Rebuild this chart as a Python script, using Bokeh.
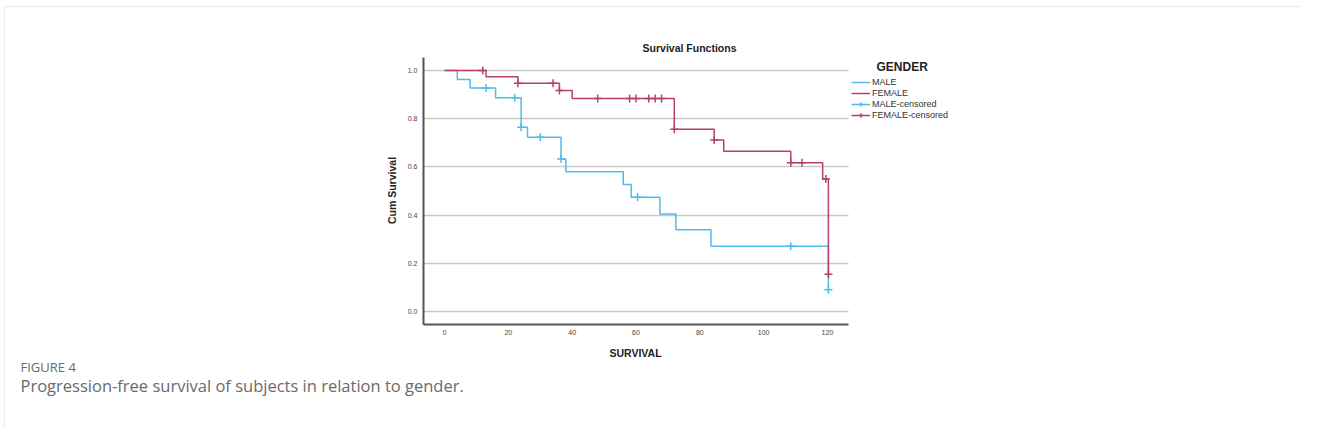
import math
from bokeh.plotting import figure
from bokeh.models import (Range1d, Label, Legend, LegendItem, FixedTicker,
                          NumeralTickFormatter, LinearAxis, Grid, BoxAnnotation)
from bokeh.embed import file_html
from bokeh.resources import INLINE

# ---- data ----
male_times = [0, 4, 8, 16, 24, 26, 36.5, 38, 56, 58.5, 67.5, 72.5, 83.5, 120.3]
male_surv = [1.0, 0.963, 0.927, 0.887, 0.765, 0.723, 0.633, 0.58, 0.527, 0.474, 0.405, 0.339, 0.271, 0.09]
male_cens_times = [13, 22, 24, 30, 36.5, 60.5, 108.5, 120.3]
male_cens_surv = [0.927, 0.887, 0.765, 0.723, 0.633, 0.474, 0.271, 0.09]

female_times = [0, 13, 23, 36, 40, 72, 84.5, 87.5, 108.5, 118.5, 120.3]
female_surv = [1.0, 0.974, 0.947, 0.917, 0.884, 0.756, 0.712, 0.665, 0.617, 0.55, 0.155]
female_cens_times = [12, 23, 34, 36, 48, 58, 60, 64, 66, 68, 72, 84.5, 108.5, 112, 119.5, 120.3]
female_cens_surv = [1.0, 0.947, 0.947, 0.917, 0.884, 0.884, 0.884, 0.884, 0.884, 0.884, 0.756, 0.712, 0.617, 0.617, 0.55, 0.155]

x_ticks = [0, 20, 40, 60, 80, 100, 120]
y_ticks = [0.0, 0.2, 0.4, 0.6, 0.8, 1.0]

series_names = ["MALE", "FEMALE", "MALE-censored", "FEMALE-censored"]
chart_title = "Survival Functions"
legend_title = "GENDER"
x_label = "SURVIVAL"
y_label = "Cum Survival"
caption_head = "FIGURE 4"
caption_text = "Progression-free survival of subjects in relation to gender."

BLUE = "#4dbcec"
RED = "#b5406e"
FONT = "Liberation Sans"
CAP_FONT = "Open Sans"

W, H = 1302, 429
X0, X1 = -6.6, 126.6          # data extent of the plot box
Y0, Y1 = -0.054, 1.054
BL, BR, BT, BB = 423, 848, 57, 324   # plot box edges, px
kx = (BR - BL) / (X1 - X0)
ky = (BB - BT) / (Y1 - Y0)

p = figure(width=W, height=H, output_backend="svg", toolbar_location=None,
           x_range=Range1d(X0 - BL / kx, X1 + (W - BR) / kx),
           y_range=Range1d(Y0 - (H - BB) / ky, Y1 + BT / ky),
           x_axis_location=None, y_axis_location=None, min_border=0)
p.min_border_left = p.min_border_right = p.min_border_top = p.min_border_bottom = 0
p.outline_line_color = None
p.background_fill_color = "white"
for g in list(p.grid):
    g.visible = False

# outer container border (top and left edges)
p.add_layout(BoxAnnotation(left=4, right=W + 20, top=H - 6, bottom=-20,
                           left_units="screen", right_units="screen",
                           top_units="screen", bottom_units="screen",
                           fill_alpha=0, line_color="#c8c8c8", line_width=1.5))

grid = Grid(dimension=1, ticker=FixedTicker(ticks=y_ticks),
            grid_line_color="#c9c9c9", grid_line_width=1.3)
if "cross_bounds" in Grid.properties():
    grid.cross_bounds = (X0, X1)
    p.add_layout(grid)
else:
    p.segment(x0=[X0] * len(y_ticks), x1=[X1] * len(y_ticks), y0=y_ticks, y1=y_ticks,
              line_color="#c9c9c9", line_width=1.3)

xa = LinearAxis(fixed_location=Y0, bounds=(X0, X1), ticker=FixedTicker(ticks=x_ticks))
ya = LinearAxis(fixed_location=X0, bounds=(Y0, Y1), ticker=FixedTicker(ticks=y_ticks),
                formatter=NumeralTickFormatter(format="0.0"))
for ax in (xa, ya):
    ax.axis_line_color = "#555555"
    ax.axis_line_width = 2
    ax.major_tick_line_color = None
    ax.minor_tick_line_color = None
    ax.major_tick_out = 0
    ax.major_tick_in = 0
    ax.major_label_text_font = FONT
    ax.major_label_text_font_size = "7px"
    ax.major_label_text_color = "#444444"
xa.major_label_standoff = 5
ya.major_label_standoff = 6
p.add_layout(xa, "below")
p.add_layout(ya, "left")

r_male = p.step(male_times, male_surv, mode="after", line_color=BLUE, line_width=1.5)
r_female = p.step(female_times, female_surv, mode="after", line_color=RED, line_width=1.5)
r_mc = p.scatter(male_cens_times, male_cens_surv, marker="cross", size=8, line_color=BLUE, line_width=1.5)
r_fc = p.scatter(female_cens_times, female_cens_surv, marker="cross", size=8, line_color=RED, line_width=1.5)

# legend helper lines (NaN data: nothing drawn in the plot, only legend icons)
l_male = p.line([math.nan], [math.nan], line_color=BLUE, line_width=1.5)
l_female = p.line([math.nan], [math.nan], line_color=RED, line_width=1.5)

legend = Legend(items=[
    LegendItem(label=series_names[0], renderers=[l_male]),
    LegendItem(label=series_names[1], renderers=[l_female]),
    LegendItem(label=series_names[2], renderers=[l_male, r_mc]),
    LegendItem(label=series_names[3], renderers=[l_female, r_fc]),
], location=(851, H - 120))
legend.padding = 0
legend.margin = 0
legend.spacing = 1
legend.glyph_width = 19
legend.glyph_height = 10
legend.label_height = 10
legend.label_standoff = 2
legend.label_text_font = FONT
legend.label_text_font_size = "9px"
legend.label_text_color = "#333333"
legend.border_line_color = None
legend.background_fill_alpha = 0
p.add_layout(legend)


def lab(text, px, py, size, bold=False, align="left", color="#222222", font=FONT, angle=0.0):
    p.add_layout(Label(x=px, y=H - py, x_units="screen", y_units="screen",
                       text=text, text_font=font, text_font_size=size,
                       text_font_style="bold" if bold else "normal",
                       text_align=align, text_baseline="middle", text_color=color,
                       angle=angle))


lab(chart_title, 689, 47, "10.5px", bold=True, align="center")
lab(legend_title, 876, 66, "12px", bold=True)
lab(x_label, 635, 352, "10.5px", bold=True, align="center")
lab(y_label, 391, 190, "10.5px", bold=True, align="center", angle=math.pi / 2)
lab(caption_head, 20, 366, "13px", color="#6a6a6a", font=CAP_FONT)
lab(caption_text, 20, 385, "16.5px", color="#6a6a6a", font=CAP_FONT)

open("out.html", "w").write(file_html(p, INLINE))
